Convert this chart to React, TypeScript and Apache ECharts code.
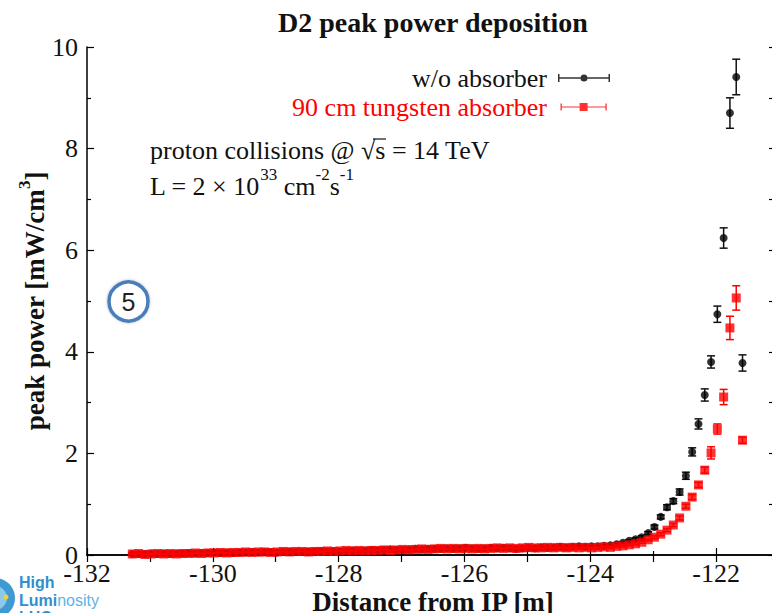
import React, { useEffect, useRef } from "react";
import * as echarts from "echarts";

// Distance from IP [m] of each sampled position
const positions = [
  -131.28, -131.18, -131.08, -130.98, -130.88, -130.78, -130.68, -130.58, -130.48, -130.38,
  -130.28, -130.18, -130.08, -129.98, -129.88, -129.78, -129.68, -129.58, -129.48, -129.38,
  -129.28, -129.18, -129.08, -128.98, -128.88, -128.78, -128.68, -128.58, -128.48, -128.38,
  -128.28, -128.18, -128.08, -127.98, -127.88, -127.78, -127.68, -127.58, -127.48, -127.38,
  -127.28, -127.18, -127.08, -126.98, -126.88, -126.78, -126.68, -126.58, -126.48, -126.38,
  -126.28, -126.18, -126.08, -125.98, -125.88, -125.78, -125.68, -125.58, -125.48, -125.38,
  -125.28, -125.18, -125.08, -124.98, -124.88, -124.78, -124.68, -124.58, -124.48, -124.38,
  -124.28, -124.18, -124.08, -123.98, -123.88, -123.78, -123.68, -123.58, -123.48, -123.38,
  -123.28, -123.18, -123.08, -122.98, -122.88, -122.78, -122.68, -122.58, -122.48, -122.38,
  -122.28, -122.18, -122.08, -121.98, -121.88, -121.78, -121.68, -121.58,
];

// peak power [mW/cm3], w/o absorber
const withoutAbsorber = [
  0.02, 0.02, 0.02, 0.03, 0.02, 0.03, 0.02, 0.03, 0.03, 0.04,
  0.03, 0.04, 0.04, 0.05, 0.04, 0.05, 0.04, 0.05, 0.05, 0.06,
  0.05, 0.06, 0.06, 0.05, 0.06, 0.07, 0.06, 0.06, 0.07, 0.07,
  0.08, 0.07, 0.08, 0.07, 0.08, 0.09, 0.08, 0.09, 0.10, 0.09,
  0.10, 0.11, 0.10, 0.10, 0.11, 0.12, 0.11, 0.12, 0.12, 0.12,
  0.13, 0.12, 0.13, 0.14, 0.13, 0.12, 0.13, 0.14, 0.13, 0.14,
  0.13, 0.12, 0.13, 0.14, 0.13, 0.15, 0.14, 0.15, 0.16, 0.15,
  0.16, 0.17, 0.16, 0.17, 0.17, 0.18, 0.19, 0.21, 0.24, 0.28,
  0.31, 0.35, 0.43, 0.55, 0.75, 0.94, 1.06, 1.24, 1.56, 2.03,
  2.58, 3.15, 3.80, 4.74, 6.24, 8.70, 9.41, 3.78,
];
const withoutAbsorberErr = [
  0.01, 0.01, 0.01, 0.01, 0.01, 0.01, 0.01, 0.01, 0.01, 0.01,
  0.01, 0.01, 0.01, 0.01, 0.01, 0.01, 0.01, 0.01, 0.01, 0.01,
  0.01, 0.01, 0.01, 0.01, 0.01, 0.01, 0.01, 0.01, 0.01, 0.01,
  0.01, 0.01, 0.01, 0.01, 0.01, 0.01, 0.01, 0.01, 0.01, 0.01,
  0.01, 0.01, 0.01, 0.01, 0.01, 0.01, 0.01, 0.01, 0.01, 0.01,
  0.01, 0.01, 0.01, 0.01, 0.01, 0.01, 0.01, 0.01, 0.01, 0.01,
  0.01, 0.01, 0.01, 0.01, 0.01, 0.01, 0.01, 0.01, 0.01, 0.01,
  0.01, 0.01, 0.01, 0.01, 0.01, 0.02, 0.02, 0.02, 0.02, 0.02,
  0.03, 0.03, 0.03, 0.04, 0.04, 0.05, 0.05, 0.06, 0.07, 0.08,
  0.10, 0.12, 0.12, 0.16, 0.20, 0.30, 0.35, 0.16,
];

// peak power [mW/cm3], 90 cm tungsten absorber
const withAbsorber = [
  0.02, 0.03, 0.01, 0.02, 0.03, 0.02, 0.03, 0.02, 0.03, 0.03,
  0.04, 0.03, 0.04, 0.04, 0.05, 0.04, 0.05, 0.05, 0.06, 0.05,
  0.06, 0.06, 0.05, 0.06, 0.07, 0.06, 0.07, 0.07, 0.06, 0.07,
  0.07, 0.08, 0.07, 0.08, 0.09, 0.08, 0.09, 0.08, 0.09, 0.09,
  0.10, 0.09, 0.10, 0.11, 0.10, 0.11, 0.12, 0.11, 0.12, 0.13,
  0.12, 0.13, 0.12, 0.13, 0.12, 0.13, 0.12, 0.13, 0.14, 0.13,
  0.14, 0.13, 0.14, 0.15, 0.14, 0.14, 0.15, 0.14, 0.15, 0.14,
  0.15, 0.14, 0.15, 0.14, 0.15, 0.16, 0.15, 0.17, 0.18, 0.20,
  0.22, 0.25, 0.30, 0.35, 0.41, 0.49, 0.59, 0.73, 0.96, 1.14,
  1.38, 1.67, 2.01, 2.48, 3.11, 4.47, 5.06, 2.26,
];
const withAbsorberErr = [
  0.01, 0.01, 0.01, 0.01, 0.01, 0.01, 0.01, 0.01, 0.01, 0.01,
  0.01, 0.01, 0.01, 0.01, 0.01, 0.01, 0.01, 0.01, 0.01, 0.01,
  0.01, 0.01, 0.01, 0.01, 0.01, 0.01, 0.01, 0.01, 0.01, 0.01,
  0.01, 0.01, 0.01, 0.01, 0.01, 0.01, 0.01, 0.01, 0.01, 0.01,
  0.01, 0.01, 0.01, 0.01, 0.01, 0.01, 0.01, 0.01, 0.01, 0.01,
  0.01, 0.01, 0.01, 0.01, 0.01, 0.01, 0.01, 0.01, 0.01, 0.01,
  0.01, 0.01, 0.01, 0.01, 0.01, 0.01, 0.01, 0.01, 0.01, 0.01,
  0.01, 0.01, 0.01, 0.01, 0.01, 0.01, 0.02, 0.02, 0.02, 0.02,
  0.02, 0.02, 0.02, 0.03, 0.03, 0.03, 0.03, 0.04, 0.04, 0.05,
  0.05, 0.06, 0.12, 0.10, 0.15, 0.23, 0.24, 0.06,
];

const seriesNames = ["w/o absorber", "90 cm tungsten absorber"];
const seriesColors = ["#111111", "#ff0000"];
const xRange = [-132, -121];
const yRange = [0, 10];

const SERIF = "Liberation Serif";
const GSERIF = "serif";
const SANS = "Liberation Sans";

const blackIcon =
  "path://M-7,4L-7,4Z M0,0h1.5v8h-1.5Z M50.5,0h1.5v8h-1.5Z M0,3.3h52v1.4h-52Z M29.5,4A3.5,3.5 0 1,1 22.5,4A3.5,3.5 0 1,1 29.5,4Z";
const redIcon =
  "path://M-7,4L-7,4Z M0,0h1.5v8h-1.5Z M50.5,0h1.5v8h-1.5Z M0,3.3h52v1.4h-52Z M21.5,-0.5h9v9h-9Z";

function errRender(color: string) {
  return (params: any, api: any) => {
    const x = api.value(0);
    const y = api.value(1);
    const e = api.value(2);
    const top = api.coord([x, y + e]);
    const bot = api.coord([x, y - e]);
    const hw = 4;
    const style = { stroke: color, lineWidth: 1.5 };
    return {
      type: "group",
      children: [
        { type: "line", shape: { x1: top[0], y1: top[1], x2: bot[0], y2: bot[1] }, style },
        { type: "line", shape: { x1: top[0] - hw, y1: top[1], x2: top[0] + hw, y2: top[1] }, style },
        { type: "line", shape: { x1: bot[0] - hw, y1: bot[1], x2: bot[0] + hw, y2: bot[1] }, style },
      ],
    };
  };
}

export default function App() {
  const ref = useRef<HTMLDivElement>(null);
  useEffect(() => {
    if (!ref.current) return;
    const chart = echarts.init(ref.current, null, { renderer: "svg" });
    const blackPts = positions.map((x, i) => [x, withoutAbsorber[i]]);
    const redPts = positions.map((x, i) => [x, withAbsorber[i]]);
    const blackErr = positions.map((x, i) => [x, withoutAbsorber[i], withoutAbsorberErr[i]]);
    const redErr = positions.map((x, i) => [x, withAbsorber[i], withAbsorberErr[i]]);

    const axisLine = { show: true, lineStyle: { color: "#000", width: 1.5 } };
    const tickStyle = { color: "#000", width: 1.2 };

    // legend labels (serif), right-aligned next to the legend icons
    const legendLabels = seriesNames.map((name, i) => ({
      type: "text",
      x: 547,
      y: 78 + i * 29,
      style: {
        text: name,
        fontFamily: SERIF,
        fontSize: 26,
        fill: seriesColors[i],
        align: "right",
        verticalAlign: "middle",
      },
    }));

    chart.setOption({
      animation: false,
      backgroundColor: "#fff",
      textStyle: { fontFamily: GSERIF, fontWeight: "normal", color: "#111" },
      grid: {
        left: 87,
        top: 47,
        right: -7,
        bottom: 58,
        containLabel: false,
        outerBoundsMode: "none",
      },
      legend: {
        orient: "vertical",
        right: 157,
        top: 60,
        align: "right",
        itemWidth: 59,
        itemHeight: 8,
        itemGap: 3,
        selectedMode: false,
        formatter: () => " ",
        textStyle: { fontFamily: GSERIF, fontSize: 26, color: "#111" },
        data: [
          { name: seriesNames[0], icon: blackIcon },
          { name: seriesNames[1], icon: redIcon },
        ],
      },
      xAxis: [
        {
          type: "value",
          position: "bottom",
          min: xRange[0],
          max: xRange[1],
          interval: 2,
          name: "Distance from IP [m]",
          nameLocation: "middle",
          nameGap: 33,
          nameMoveOverlap: false,
          nameTextStyle: { fontFamily: SERIF, fontSize: 27, fontWeight: "bold", color: "#111" },
          axisLine,
          axisTick: { show: true, inside: true, length: 7, lineStyle: tickStyle },
          minorTick: { show: true, splitNumber: 2, length: 4, lineStyle: tickStyle },
          axisLabel: {
            fontFamily: GSERIF,
            fontSize: 26,
            fontWeight: "normal",
            color: "#111",
            margin: 5,
            showMaxLabel: false,
          },
          splitLine: { show: false },
        },
        {
          type: "value",
          position: "top",
          min: xRange[0],
          max: xRange[1],
          interval: 1,
          axisLine,
          axisTick: { show: true, inside: true, length: 7, lineStyle: tickStyle },
          axisLabel: { show: false },
          splitLine: { show: false },
        },
      ],
      yAxis: [
        {
          type: "value",
          position: "left",
          min: yRange[0],
          max: yRange[1],
          interval: 2,
          name: "peak power [mW/cm{sup|3}]",
          nameLocation: "middle",
          nameGap: 33,
          nameMoveOverlap: false,
          nameTextStyle: {
            fontFamily: SERIF,
            fontSize: 27,
            fontWeight: "bold",
            color: "#111",
            lineHeight: 38,
            rich: {
              sup: { fontFamily: SERIF, fontSize: 17, fontWeight: "bold", color: "#111", verticalAlign: "top" },
            },
          },
          axisLine,
          axisTick: { show: true, inside: true, length: 7, lineStyle: tickStyle },
          minorTick: { show: true, splitNumber: 2, length: 4, lineStyle: tickStyle },
          axisLabel: {
            fontFamily: GSERIF,
            fontSize: 26,
            fontWeight: "normal",
            color: "#111",
            margin: 9,
          },
          splitLine: { show: false },
        },
        {
          type: "value",
          position: "right",
          min: yRange[0],
          max: yRange[1],
          interval: 1,
          axisLine,
          axisTick: { show: true, inside: true, length: 10, lineStyle: tickStyle },
          axisLabel: { show: false },
          splitLine: { show: false },
        },
      ],
      series: [
        {
          type: "custom",
          name: "err-black",
          renderItem: errRender("#111"),
          data: blackErr,
          encode: { x: 0, y: 1 },
          z: 2,
        },
        {
          type: "scatter",
          name: seriesNames[0],
          data: blackPts,
          symbol: "circle",
          symbolSize: 8,
          itemStyle: { color: "#000" },
          z: 3,
        },
        {
          type: "custom",
          name: "err-red",
          renderItem: errRender("#ff0000"),
          data: redErr,
          encode: { x: 0, y: 1 },
          z: 4,
        },
        {
          type: "scatter",
          name: seriesNames[1],
          data: redPts,
          symbol: "rect",
          symbolSize: 9,
          itemStyle: { color: "#ff0000" },
          z: 5,
        },
      ],
      graphic: [
        ...legendLabels,
        {
          type: "text",
          x: 433,
          y: 22,
          style: {
            text: "D2 peak power deposition",
            fontFamily: SERIF,
            fontSize: 28,
            fontWeight: "bold",
            fill: "#111",
            align: "center",
            verticalAlign: "middle",
          },
        },
        {
          type: "text",
          x: 150,
          y: 150,
          style: {
            text: "proton collisions @ √s = 14 TeV",
            fontFamily: SERIF,
            fontSize: 26,
            fill: "#111",
            align: "left",
            verticalAlign: "middle",
          },
        },
        {
          type: "line",
          shape: { x1: 373, y1: 139, x2: 386, y2: 139 },
          style: { stroke: "#111", lineWidth: 1.2 },
        },
        {
          type: "text",
          x: 150,
          y: 186,
          style: {
            text: "L = 2 × 10{sup|33} cm{sup|-2}s{sup|-1}",
            fontFamily: SERIF,
            fontSize: 26,
            fill: "#111",
            lineHeight: 40,
            align: "left",
            verticalAlign: "middle",
            rich: {
              sup: { fontFamily: SERIF, fontSize: 17, fill: "#111", verticalAlign: "top" },
            },
          },
        },
        {
          type: "circle",
          shape: { cx: 128.5, cy: 301.5, r: 19.5 },
          style: {
            fill: "#fff",
            stroke: "#4a7ebb",
            lineWidth: 3.5,
            shadowBlur: 3,
            shadowColor: "rgba(0,0,0,0.25)",
          },
          z: 10,
        },
        {
          type: "text",
          x: 128.5,
          y: 302,
          style: {
            text: "5",
            fontFamily: SANS,
            fontSize: 25,
            fill: "#222",
            align: "center",
            verticalAlign: "middle",
          },
          z: 11,
        },
        {
          type: "circle",
          shape: { cx: -5, cy: 598, r: 20 },
          style: { fill: "#3f9ad3" },
          z: 10,
        },
        {
          type: "circle",
          shape: { cx: -5, cy: 598, r: 12 },
          style: { fill: "#8cc8ea" },
          z: 10,
        },
        {
          type: "circle",
          shape: { cx: 6, cy: 597, r: 2.5 },
          style: { fill: "#f2d23c" },
          z: 11,
        },
        {
          type: "text",
          x: 19,
          y: 582,
          style: {
            text: "High",
            fontFamily: SANS,
            fontSize: 16,
            fontWeight: "bold",
            fill: "#2f8fcf",
            align: "left",
            verticalAlign: "middle",
          },
          z: 11,
        },
        {
          type: "text",
          x: 19,
          y: 600,
          style: {
            text: "{b|Lumi}{n|nosity}",
            align: "left",
            verticalAlign: "middle",
            rich: {
              b: { fontFamily: SANS, fontSize: 16, fontWeight: "bold", fill: "#2f8fcf" },
              n: { fontFamily: SANS, fontSize: 16, fill: "#5cb4e4" },
            },
          },
          z: 11,
        },
        {
          type: "text",
          x: 19,
          y: 617,
          style: {
            text: "LHC",
            fontFamily: SANS,
            fontSize: 16,
            fontWeight: "bold",
            fill: "#2f8fcf",
            align: "left",
            verticalAlign: "middle",
          },
          z: 11,
        },
      ],
    });
    return () => chart.dispose();
  }, []);
  return (
    <div
      ref={ref}
      style={{ position: "fixed", left: 0, top: 0, width: 772, height: 613, background: "#fff" }}
    />
  );
}
